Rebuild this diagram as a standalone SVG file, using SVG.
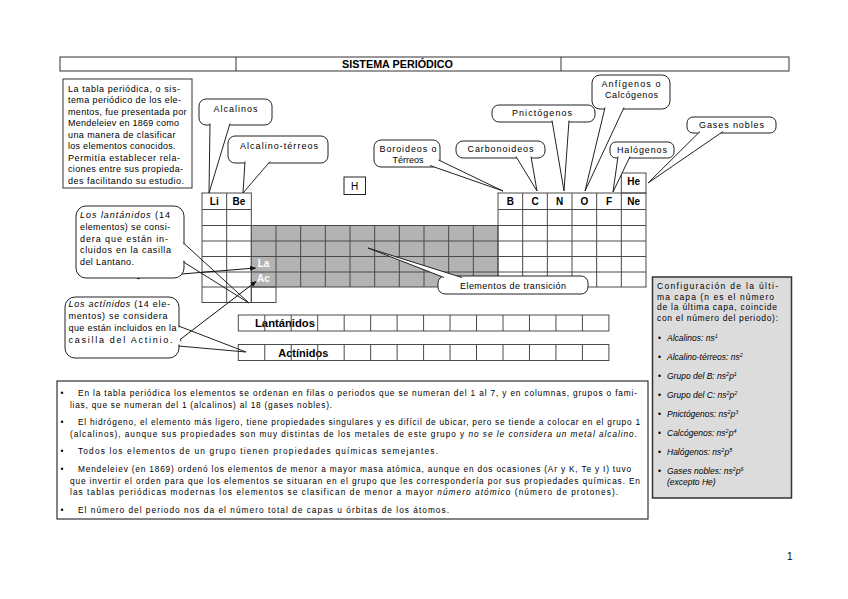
<svg xmlns="http://www.w3.org/2000/svg" width="848" height="599" viewBox="0 0 848 599">
<defs>
<style>
text{font-family:"Liberation Sans",Arial,sans-serif;fill:#000}
.f9{font-size:9px}
.f85{font-size:8.5px}
.f83{font-size:8.3px}
.b{font-weight:bold}
.i{font-style:italic}
.c{text-anchor:middle}
.lab{font-size:10px;font-weight:bold;text-anchor:middle}
.co{fill:#fff;stroke:#222;stroke-width:1}
.tail{fill:#fff;stroke:#222;stroke-width:1;stroke-linejoin:miter}
.tailn{fill:none;stroke:#222;stroke-width:1}
.erase{stroke:#fff;stroke-width:2.5}
.grid{fill:none;stroke:#4a4a4a;stroke-width:1}
.box{fill:none;stroke:#333;stroke-width:1}
.arr{fill:none;stroke:#111;stroke-width:1;marker-end:url(#ah)}
.sup{font-size:5.5px}
</style>
<marker id="ah" viewBox="0 0 10 10" refX="9" refY="5" markerWidth="6" markerHeight="6" orient="auto">
<path d="M0,1 L10,5 L0,9 z" fill="#111"/>
</marker>
</defs>
<rect width="848" height="599" fill="#fff"/>

<g id="title">
<rect x="60" y="57" width="729" height="14" class="box"/>
<line x1="236" y1="57" x2="236" y2="71" class="box"/>
<line x1="561" y1="57" x2="561" y2="71" class="box"/>
<text x="397.5" y="67.5" class="c b" font-size="10" textLength="111" lengthAdjust="spacingAndGlyphs">SISTEMA PERIÓDICO</text>
</g>

<g id="intro">
<rect x="63" y="79" width="129" height="109" class="box"/>
<text class="f9" x="68" y="91.5" textLength="112" lengthAdjust="spacing">La tabla periódica, o sis-</text>
<text class="f9" x="68" y="103" textLength="113" lengthAdjust="spacing">tema periódico de los ele-</text>
<text class="f9" x="68" y="114.5" textLength="118.5" lengthAdjust="spacing">mentos, fue presentada por</text>
<text class="f9" x="68" y="126" textLength="111" lengthAdjust="spacing">Mendeleiev en 1869 como</text>
<text class="f9" x="68" y="137.5" textLength="107.5" lengthAdjust="spacing">una manera de clasificar</text>
<text class="f9" x="68" y="149" textLength="107.5" lengthAdjust="spacing">los elementos conocidos.</text>
<text class="f9" x="68" y="160.5" textLength="112" lengthAdjust="spacing">Permitía establecer rela-</text>
<text class="f9" x="68" y="172" textLength="115" lengthAdjust="spacing">ciones entre sus propieda-</text>
<text class="f9" x="68" y="183.5" textLength="116" lengthAdjust="spacing">des facilitando su estudio.</text>
</g>

<g id="table">
<!-- s-block -->
<rect x="202" y="193" width="49.33" height="109.5" class="grid"/>
<path class="grid" d="M226.67,193V302.5 M202,209.5H251.33 M202,225.5H251.33 M202,241H251.33 M202,256.5H251.33 M202,272H251.33 M202,287H251.33"/>
<!-- transition block -->
<rect x="251.33" y="225.5" width="246.67" height="61.5" fill="#b3b3b3" stroke="#4a4a4a" stroke-width="1"/>
<path class="grid" d="M276,225.5V287 M300.67,225.5V287 M325.33,225.5V287 M350,225.5V287 M374.67,225.5V287 M399.33,225.5V287 M424,225.5V287 M448.67,225.5V287 M473.33,225.5V287 M251.33,241H498 M251.33,256.5H498 M251.33,272H498"/>
<rect x="251.33" y="287" width="24.67" height="15.5" class="grid"/>
<!-- p-block -->
<rect x="498" y="193" width="148" height="94" class="grid"/>
<path class="grid" d="M522.67,193V287 M547.33,193V287 M572,193V287 M596.67,193V287 M621.33,193V287 M498,209.5H646 M498,225.5H646 M498,241H646 M498,256.5H646 M498,272H646"/>
<rect x="621.33" y="173" width="24.67" height="20" class="grid"/>
<text class="lab" x="214.3" y="204.5">Li</text>
<text class="lab" x="239" y="204.5">Be</text>
<text class="lab" x="510.3" y="204.5">B</text>
<text class="lab" x="535" y="204.5">C</text>
<text class="lab" x="559.7" y="204.5">N</text>
<text class="lab" x="584.3" y="204.5">O</text>
<text class="lab" x="609" y="204.5">F</text>
<text class="lab" x="633.7" y="204.5">Ne</text>
<text class="lab" x="633.7" y="184.5">He</text>
<text class="lab" x="263.5" y="267" fill="#fff" style="fill:#fff" font-size="9.5">La</text>
<text class="lab" x="263.5" y="282" fill="#fff" style="fill:#fff" font-size="9.5">Ac</text>
</g>

<g id="hydrogen">
<rect x="344" y="177" width="21.5" height="17.5" fill="#fff" stroke="#222" stroke-width="1"/>
<text x="354.7" y="189.5" class="c" font-size="10">H</text>
</g>

<g id="lanthanides-row">
<text x="285" y="326.5" class="c b" font-size="10.5" textLength="60" lengthAdjust="spacingAndGlyphs">Lantánidos</text>
<rect x="238.3" y="315" width="370.6" height="16" class="grid"/>
<path class="grid" d="M264.77,315v16 M291.24,315v16 M317.71,315v16 M344.18,315v16 M370.65,315v16 M397.12,315v16 M423.59,315v16 M450.06,315v16 M476.53,315v16 M503,315v16 M529.47,315v16 M555.94,315v16 M582.41,315v16"/>
</g>

<g id="actinides-row">
<text x="303.3" y="356.5" class="c b" font-size="10.5" textLength="50" lengthAdjust="spacingAndGlyphs">Actínidos</text>
<rect x="238.3" y="344.5" width="370.6" height="16" class="grid"/>
<path class="grid" d="M264.77,344.5v16 M291.24,344.5v16 M317.71,344.5v16 M344.18,344.5v16 M370.65,344.5v16 M397.12,344.5v16 M423.59,344.5v16 M450.06,344.5v16 M476.53,344.5v16 M503,344.5v16 M529.47,344.5v16 M555.94,344.5v16 M582.41,344.5v16"/>
</g>

<g id="connectors">
<line class="arr" x1="138.5" y1="277.5" x2="255.5" y2="268"/>
<line class="arr" x1="179.5" y1="340" x2="256" y2="281.5"/>
<circle cx="138.5" cy="277.5" r="1.8" fill="#111"/>
<circle cx="179.5" cy="340" r="1.8" fill="#111"/>
</g>

<g id="callout-alcalinos">
<rect class="co" x="199" y="99" width="73" height="26" rx="7"/>
<path class="tail" d="M210,123.5 L209,193 L230,123.5"/>
<text class="f9 c" x="235.5" y="111.5" textLength="44" lengthAdjust="spacing">Alcalinos</text>
</g>

<g id="callout-alcalinoterreos">
<rect class="co" x="228" y="136" width="100" height="27" rx="7"/>
<path class="tail" d="M245,161.5 L243,193 L270,161.5"/>
<text class="f9 c" x="279" y="148.5" textLength="78" lengthAdjust="spacing">Alcalino-térreos</text>
</g>

<g id="callout-boroideos">
<rect class="co" x="374" y="140" width="66" height="27" rx="7"/>
<path class="tail" d="M430,165.5 L503,191 L438.5,160"/>
<text class="f9 c" x="408" y="151.5" textLength="57" lengthAdjust="spacing">Boroideos o</text>
<text class="f9 c" x="408" y="162.5">Térreos</text>
</g>

<g id="callout-carbonoideos">
<rect class="co" x="456" y="141" width="89" height="17" rx="7"/>
<path class="tail" d="M516,156.5 L537,191 L531,156.5"/>
<text class="f9 c" x="500.5" y="152" textLength="66" lengthAdjust="spacing">Carbonoideos</text>
</g>

<g id="callout-pnictogenos">
<rect class="co" x="492" y="105" width="103" height="17" rx="7"/>
<path class="tail" d="M552,120.5 L564,191 L569,120.5"/>
<text class="f9 c" x="542" y="116" textLength="60" lengthAdjust="spacing">Pnictógenos</text>
</g>

<g id="callout-anfigenos">
<rect class="co" x="592" y="75" width="78" height="34" rx="8"/>
<path class="tail" d="M605,107.5 L585,191 L624,107.5"/>
<text class="f9 c" x="631" y="86.5" textLength="59" lengthAdjust="spacing">Anfígenos o</text>
<text class="f9 c" x="631.5" y="98" textLength="53" lengthAdjust="spacing">Calcógenos</text>
</g>

<g id="callout-halogenos">
<rect class="co" x="610" y="142" width="64" height="16" rx="6"/>
<path class="tail" d="M618,156.5 L613,192 L630,156.5"/>
<text class="f9 c" x="642" y="152.5" textLength="50" lengthAdjust="spacing">Halógenos</text>
</g>

<g id="callout-gases">
<rect class="co" x="687" y="117" width="89" height="16" rx="6"/>
<path class="tail" d="M700,131.5 L648,183 L723,131.5"/>
<text class="f9 c" x="731.5" y="127.5" textLength="65" lengthAdjust="spacing">Gases nobles</text>
</g>

<g id="callout-transicion">
<rect class="co" x="438" y="276" width="150" height="18" rx="7"/>
<path class="tail" d="M444,277.5 L368,248 L462,277.5"/>
<text class="f9 c" x="513" y="288.5" textLength="106" lengthAdjust="spacing">Elementos de transición</text>
</g>

<g id="callout-lantanidos">
<rect class="co" x="76" y="206" width="108" height="72" rx="10"/>
<line class="erase" x1="184" y1="244.5" x2="184" y2="260.5"/>
<path class="tailn" d="M183.5,243 L249,303 L183.5,262"/>
<text class="f9" x="80" y="218.2" textLength="90" lengthAdjust="spacing"><tspan class="i">Los lantánidos</tspan> (14</text>
<text class="f9" x="80" y="229.9" textLength="90" lengthAdjust="spacing">elementos) se consi-</text>
<text class="f9" x="80" y="241.6" textLength="88" lengthAdjust="spacing">dera que están  in-</text>
<text class="f9" x="80" y="253.3" textLength="91" lengthAdjust="spacing">cluidos en la casilla</text>
<text class="f9" x="80" y="265" textLength="54" lengthAdjust="spacing">del Lantano.</text>
</g>

<g id="callout-actinidos">
<rect class="co" x="65" y="297" width="114" height="61" rx="10"/>
<line class="erase" x1="179" y1="327.5" x2="179" y2="344.5"/>
<path class="tailn" d="M178.5,326 L246,352 L178.5,346"/>
<text class="f9" x="68.5" y="307" textLength="101.5" lengthAdjust="spacing"><tspan class="i">Los actínidos</tspan> (14 ele-</text>
<text class="f9" x="68.5" y="319" textLength="99" lengthAdjust="spacing">mentos) se considera</text>
<text class="f9" x="68.5" y="330.5" textLength="108" lengthAdjust="spacing">que están incluidos en la</text>
<text class="f9" x="68.5" y="343" textLength="104" lengthAdjust="spacing">casilla del Actinio.</text>
</g>

<g id="configuracion">
<rect x="652.5" y="277" width="139" height="221" fill="#dcdcdc" stroke="#333" stroke-width="1.5"/>
<text class="f85" x="657" y="289" textLength="121" lengthAdjust="spacing">Configuración de la últi-</text>
<text class="f85" x="657" y="299.7" textLength="117" lengthAdjust="spacing">ma capa (n es el número</text>
<text class="f85" x="657" y="310.3" textLength="120" lengthAdjust="spacing">de la última capa, coincide</text>
<text class="f85" x="657" y="320.7" textLength="121" lengthAdjust="spacing">con el número del periodo):</text>
<g class="f85">
<text x="658" y="341.3" font-size="8.5">•</text>
<text x="658" y="360.3" font-size="8.5">•</text>
<text x="658" y="379.3" font-size="8.5">•</text>
<text x="658" y="398.3" font-size="8.5">•</text>
<text x="658" y="417.3" font-size="8.5">•</text>
<text x="658" y="436.3" font-size="8.5">•</text>
<text x="658" y="455.3" font-size="8.5">•</text>
<text x="658" y="474.3" font-size="8.5">•</text>
</g>
<text class="f85 i" x="667" y="341.3">Alcalinos: ns<tspan class="sup" baseline-shift="super">1</tspan></text>
<text class="f85 i" x="667" y="360.3">Alcalino-térreos: ns<tspan class="sup" baseline-shift="super">2</tspan></text>
<text class="f85 i" x="667" y="379.3">Grupo del B: ns<tspan class="sup" baseline-shift="super">2</tspan>p<tspan class="sup" baseline-shift="super">1</tspan></text>
<text class="f85 i" x="667" y="398.3">Grupo del C: ns<tspan class="sup" baseline-shift="super">2</tspan>p<tspan class="sup" baseline-shift="super">2</tspan></text>
<text class="f85 i" x="667" y="417.3">Pnictógenos: ns<tspan class="sup" baseline-shift="super">2</tspan>p<tspan class="sup" baseline-shift="super">3</tspan></text>
<text class="f85 i" x="667" y="436.3">Calcógenos: ns<tspan class="sup" baseline-shift="super">2</tspan>p<tspan class="sup" baseline-shift="super">4</tspan></text>
<text class="f85 i" x="667" y="455.3">Halógenos: ns<tspan class="sup" baseline-shift="super">2</tspan>p<tspan class="sup" baseline-shift="super">5</tspan></text>
<text class="f85 i" x="667" y="474.3">Gases nobles: ns<tspan class="sup" baseline-shift="super">2</tspan>p<tspan class="sup" baseline-shift="super">6</tspan></text>
<text class="f85 i" x="667" y="484.7">(excepto He)</text>
</g>

<g id="notes">
<rect x="57" y="381" width="591" height="138" fill="none" stroke="#333" stroke-width="1.2"/>
<text class="f83" x="60.5" y="396">•</text>
<text class="f83" x="60.5" y="425">•</text>
<text class="f83" x="60.5" y="454">•</text>
<text class="f83" x="60.5" y="472">•</text>
<text class="f83" x="60.5" y="513">•</text>
<text class="f83" x="78" y="396" textLength="559" lengthAdjust="spacing">En la tabla periódica los elementos se ordenan en filas o periodos que se numeran del 1 al 7, y en columnas, grupos o fami-</text>
<text class="f83" x="70" y="407.5" textLength="262" lengthAdjust="spacing">lias, que se numeran del 1 (alcalinos) al 18 (gases nobles).</text>
<text class="f83" x="78" y="425" textLength="562" lengthAdjust="spacing">El hidrógeno, el elemento más ligero, tiene propiedades singulares y es difícil de ubicar, pero se tiende a colocar en el grupo 1</text>
<text class="f83" x="70" y="436.5" textLength="567" lengthAdjust="spacing">(alcalinos), aunque sus propiedades son muy distintas de los metales de este grupo y <tspan class="i">no se le considera un metal alcalino.</tspan></text>
<text class="f83" x="78" y="454" textLength="360" lengthAdjust="spacing">Todos los elementos de un grupo tienen propiedades químicas semejantes.</text>
<text class="f83" x="78" y="472" textLength="553" lengthAdjust="spacing">Mendeleiev (en 1869) ordenó los elementos de menor a mayor masa atómica, aunque en dos ocasiones (Ar y K, Te y I) tuvo</text>
<text class="f83" x="70" y="483.5" textLength="570" lengthAdjust="spacing">que invertir el orden para que los elementos se situaran en el grupo que les correspondería por sus propiedades químicas. En</text>
<text class="f83" x="70" y="495" textLength="548" lengthAdjust="spacing">las tablas periódicas modernas los elementos se clasifican de menor a mayor <tspan class="i">número atómico</tspan> (número de protones).</text>
<text class="f83" x="78" y="513" textLength="371" lengthAdjust="spacing">El número del periodo nos da el número total de capas u órbitas de los átomos.</text>
</g>

<text x="787" y="560" font-size="10">1</text>
</svg>
